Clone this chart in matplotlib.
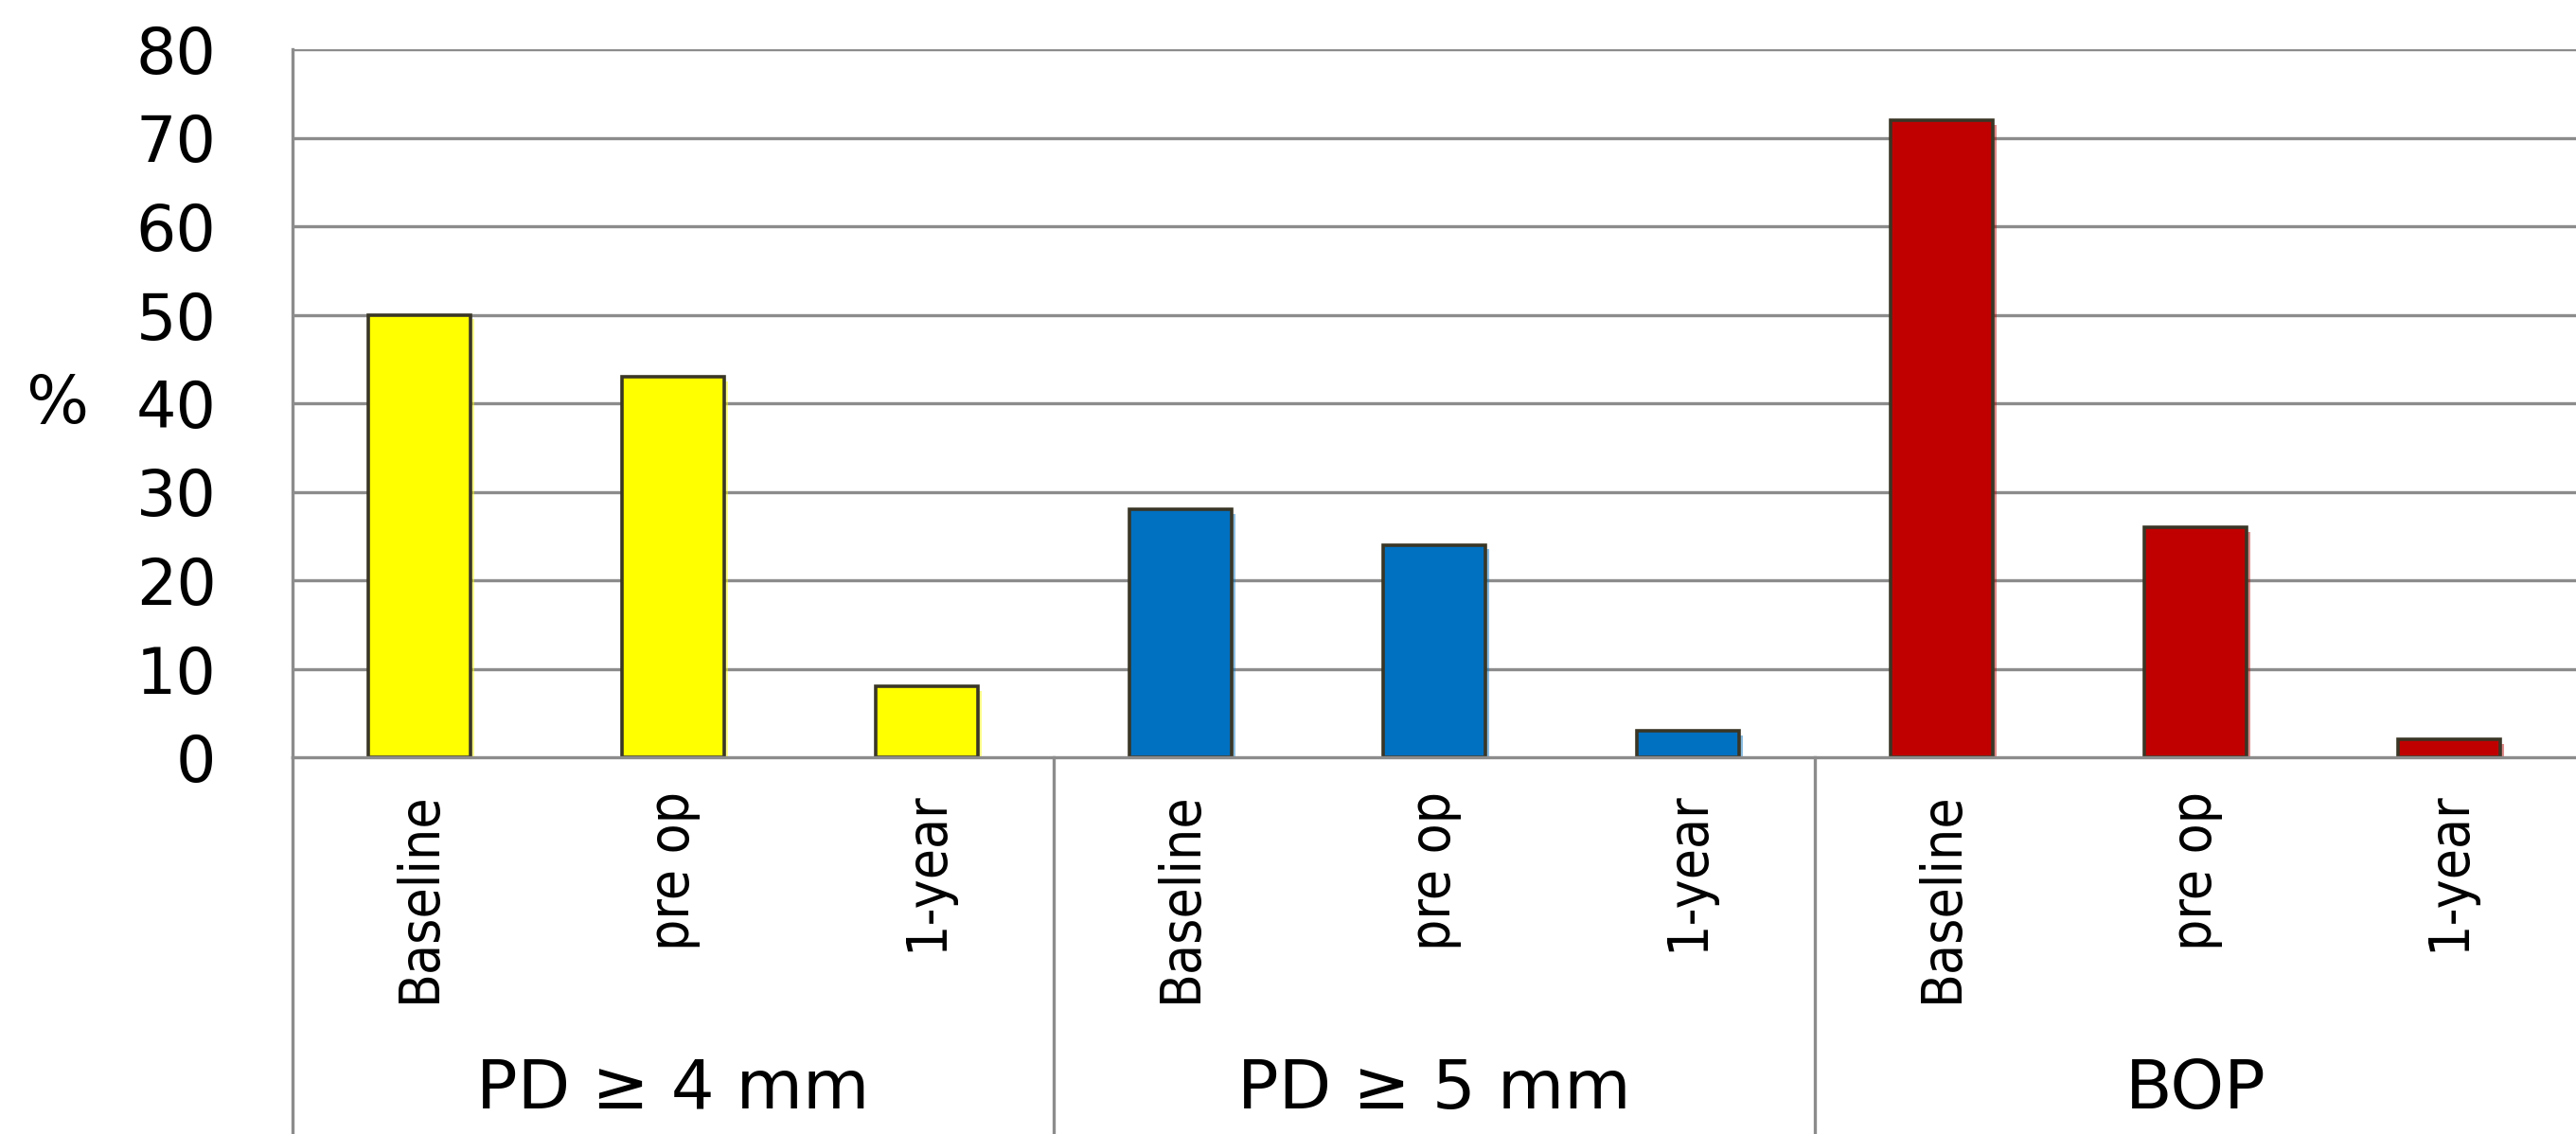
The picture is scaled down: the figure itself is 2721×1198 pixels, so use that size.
import matplotlib
matplotlib.use("Agg")
import numpy as np
from matplotlib import pyplot as plt
from matplotlib import patheffects, font_manager
from matplotlib.transforms import blended_transform_factory

groups = ['PD ≥ 4 mm', 'PD ≥ 5 mm', 'BOP']
timepoints = ['Baseline', 'pre op', '1-year']
pd4 = [50, 43, 8]
pd5 = [28, 24, 3]
bop = [72, 26, 2]
group_colors = ['#FFFF00', '#0070C0', '#C00000']
yticks = np.arange(0, 81, 10)

values = pd4 + pd5 + bop
x = np.arange(len(values))
colors = [c for c in group_colors for _ in timepoints]

# narrow face for the rotated labels if one is around
narrow = font_manager.FontProperties(family='DejaVu Sans', stretch='condensed')
narrow_path = font_manager.findfont(narrow, fallback_to_default=True)
if 'Condensed' in narrow_path:
    label_font = dict(family='DejaVu Sans', fontstretch='condensed', fontsize=42)
else:
    label_font = dict(family='DejaVu Sans', fontsize=37)

fig = plt.figure(figsize=(27.21, 11.98), dpi=100)
ax = fig.add_axes([309 / 2721, 1 - 800 / 1198, 1 - 309 / 2721, (800 - 52) / 1198])

grid_color = '#8c8c8c'
for y in yticks[1:]:
    ax.axhline(y, color=grid_color, lw=2.4, zorder=1)

bars = ax.bar(x, values, width=0.4, color=colors, edgecolor='#3a3626', linewidth=2.6, zorder=3)
for b, c in zip(bars, colors):
    b.set_path_effects([
        patheffects.SimplePatchShadow(offset=(3.5, -3.5), shadow_rgbFace=c, alpha=0.45),
        patheffects.Normal(),
    ])

ax.set_xlim(-0.5, len(values) - 0.5)
ax.set_ylim(0, 80)
ax.set_yticks(yticks)
ax.tick_params(axis='y', length=0, pad=58, labelsize=48)
ax.set_xticks([])
for s in ['top', 'right']:
    ax.spines[s].set_visible(False)
for s in ['left', 'bottom']:
    ax.spines[s].set_color(grid_color)
    ax.spines[s].set_linewidth(2.4)
ax.spines['bottom'].set_zorder(4)

fig.text(60 / 2721, 1 - 428 / 1198, '%', fontsize=50, ha='center', va='center')

# category axis below the plot: separators, time point labels, group labels
tr = blended_transform_factory(ax.transData, fig.transFigure)
bottom = 1 - 800 / 1198
for xs in [-0.5, 2.5, 5.5]:
    ax.plot([xs, xs], [0, bottom], transform=tr, color=grid_color, lw=2.4, clip_on=False)

for i, lab in enumerate(timepoints * len(groups)):
    ax.text(i, 1 - 836 / 1198, lab, transform=tr, rotation=90, ha='center', va='top', **label_font)

for g, name in enumerate(groups):
    ax.text(g * 3 + 1, 1 - 1151 / 1198, name, transform=tr, ha='center', va='center',
            fontsize=52, family='DejaVu Sans')

fig.savefig('out.png', dpi=100, facecolor='white')
